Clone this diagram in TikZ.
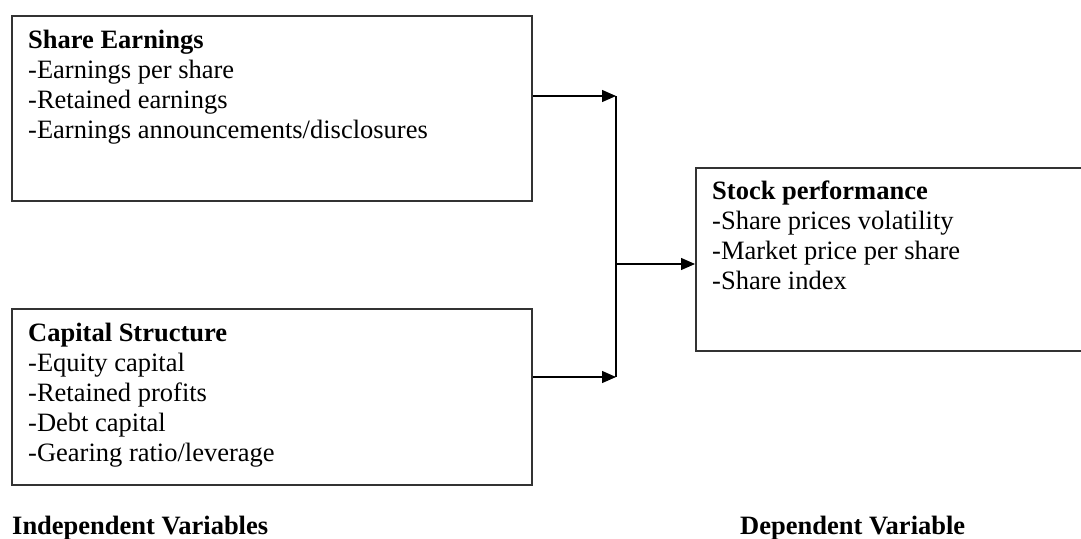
\documentclass[tikz,border=0pt]{standalone}
\usepackage{fontspec}
\setmainfont{Liberation Serif}
\usetikzlibrary{arrows.meta}
\begin{document}
\begin{tikzpicture}[x=1pt,y=-1pt,
  boxnode/.style={draw=black!80, line width=1.6pt, inner sep=0pt, anchor=north west},
  txt/.style={inner sep=0pt, anchor=north west, align=left, font=\fontsize{26.5}{30}\selectfont},
  lbl/.style={inner sep=0pt, anchor=base west, font=\fontsize{26.5}{30}\selectfont\bfseries},
  conn/.style={line width=1.3pt, draw=black},
  arr/.style={conn, -{Triangle[length=14pt,width=12pt]}}]
\useasboundingbox (0,0) rectangle (1081,538);
\clip (0,0) rectangle (1081,538);
\fill[white] (0,0) rectangle (1081,538);

% boxes
\node[boxnode, minimum width=520pt, minimum height=185pt] (se) at (11,15) {};
\node[boxnode, minimum width=520pt, minimum height=176pt] (cs) at (11,308) {};
\node[boxnode, minimum width=420pt, minimum height=183pt] (sp) at (695,167) {};

% box texts
\node[txt] (setxt) at ([shift={(17,14.5)}]se.north west)
  {\textbf{Share Earnings}\\-Earnings per share\\-Retained earnings\\-Earnings announcements/disclosures};
\node[txt] (cstxt) at ([shift={(17,14.5)}]cs.north west)
  {\textbf{Capital Structure}\\-Equity capital\\-Retained profits\\-Debt capital\\-Gearing ratio/leverage};
\node[txt] (sptxt) at ([shift={(17,13.5)}]sp.north west)
  {\textbf{Stock performance}\\-Share prices volatility\\-Market price per share\\-Share index};

% labels
\node[lbl] (ind) at (12,534) {Independent Variables};
\node[lbl] (dep) at (740,534) {Dependent Variable};

% connectors
\coordinate (j1) at (616,96);
\coordinate (j2) at (616,377);
\coordinate (jm) at (616,264);
\draw[arr] (se.east |- j1) -- (j1);
\draw[arr] (cs.east |- j2) -- (j2);
\draw[conn] (j1) -- (j2);
\draw[arr] (jm) -- (sp.west |- jm);
\end{tikzpicture}
\end{document}
